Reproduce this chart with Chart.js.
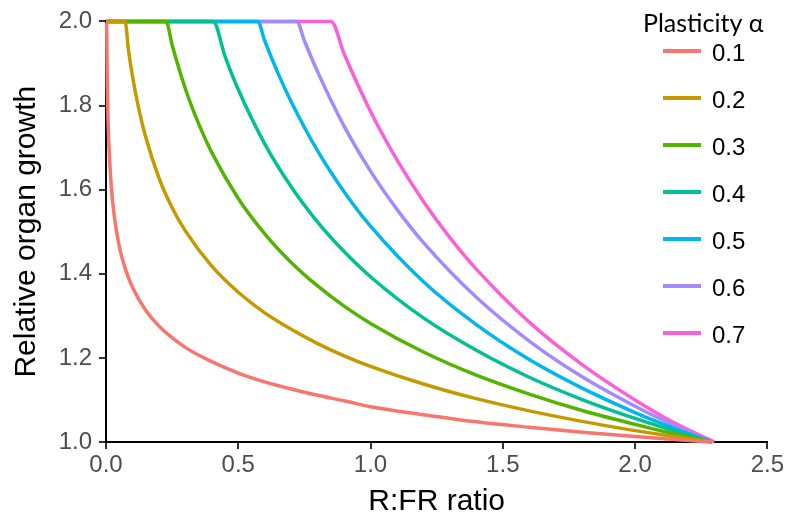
<!DOCTYPE html>
<html>
<head>
<meta charset="utf-8">
<title>Relative organ growth vs R:FR ratio</title>
<script src="https://cdn.jsdelivr.net/npm/chart.js@4.4.1/dist/chart.umd.min.js"></script>
<style>
  html, body { margin: 0; padding: 0; background: #fff; }
  #chart { display: block; }
</style>
</head>
<body>
<canvas id="chart" width="786" height="516"></canvas>
<script>
// ---------------- DATA ----------------
const legendTitle = "Plasticity \u03b1";
const alphaLabels = ["0.1", "0.2", "0.3", "0.4", "0.5", "0.6", "0.7"];
const lineColors = ["#F8766D", "#C49A00", "#53B400", "#00C094", "#00B6EB", "#A58AFF", "#FB61D7"];

const xTicks = [0, 0.5, 1.0, 1.5, 2.0, 2.5];
const yTicks = [1.0, 1.2, 1.4, 1.6, 1.8, 2.0];

// alpha = 0.1
const ratio01 = [0, 0.002, 0.005, 0.01, 0.02, 0.03, 0.05, 0.075, 0.1, 0.15, 0.2, 0.3, 0.4, 0.5, 0.6, 0.7, 0.8, 0.9, 1.0, 1.2, 1.4, 1.6, 1.8, 2.0, 2.15, 2.29];
const growth01 = [2.0, 2.0, 1.845, 1.722, 1.607, 1.543, 1.466, 1.408, 1.368, 1.313, 1.276, 1.225, 1.191, 1.164, 1.143, 1.126, 1.111, 1.098, 1.084, 1.065, 1.048, 1.035, 1.023, 1.013, 1.006, 1.0];
// alpha = 0.2
const ratio02 = [0, 0.072, 0.085, 0.1, 0.125, 0.15, 0.2, 0.25, 0.3, 0.4, 0.5, 0.6, 0.7, 0.8, 0.9, 1.0, 1.2, 1.4, 1.6, 1.8, 2.0, 2.15, 2.29];
const growth02 = [2.0, 2.0, 1.932, 1.870, 1.789, 1.725, 1.628, 1.557, 1.502, 1.418, 1.356, 1.307, 1.268, 1.234, 1.205, 1.180, 1.138, 1.103, 1.074, 1.049, 1.027, 1.013, 1.0];
// alpha = 0.3
const ratio03 = [0, 0.227, 0.25, 0.3, 0.35, 0.4, 0.5, 0.6, 0.7, 0.8, 0.9, 1.0, 1.2, 1.4, 1.6, 1.8, 2.0, 2.15, 2.29];
const growth03 = [2.0, 2.0, 1.944, 1.840, 1.757, 1.688, 1.579, 1.495, 1.427, 1.371, 1.323, 1.282, 1.214, 1.159, 1.114, 1.075, 1.042, 1.019, 1.0];
// alpha = 0.4
const ratio04 = [0, 0.405, 0.45, 0.5, 0.6, 0.7, 0.8, 0.9, 1.0, 1.2, 1.4, 1.6, 1.8, 2.0, 2.15, 2.29];
const growth04 = [2.0, 2.0, 1.917, 1.838, 1.709, 1.607, 1.523, 1.453, 1.393, 1.295, 1.218, 1.154, 1.101, 1.056, 1.026, 1.0];
// alpha = 0.5
const ratio05 = [0, 0.573, 0.6, 0.65, 0.7, 0.8, 0.9, 1.0, 1.2, 1.4, 1.6, 1.8, 2.0, 2.15, 2.29];
const growth05 = [2.0, 2.0, 1.954, 1.877, 1.809, 1.692, 1.595, 1.513, 1.381, 1.279, 1.196, 1.128, 1.070, 1.032, 1.0];
// alpha = 0.6
const ratio06 = [0, 0.721, 0.75, 0.8, 0.9, 1.0, 1.1, 1.2, 1.4, 1.6, 1.8, 2.0, 2.15, 2.29];
const growth06 = [2.0, 2.0, 1.954, 1.880, 1.751, 1.644, 1.553, 1.474, 1.344, 1.240, 1.155, 1.085, 1.039, 1.0];
// alpha = 0.7
const ratio07 = [0, 0.851, 0.9, 1.0, 1.1, 1.2, 1.3, 1.4, 1.6, 1.8, 2.0, 2.15, 2.30];
const growth07 = [2.0, 2.0, 1.923, 1.786, 1.671, 1.572, 1.486, 1.411, 1.285, 1.184, 1.100, 1.045, 1.0];

const ratios = [ratio01, ratio02, ratio03, ratio04, ratio05, ratio06, ratio07];
const growths = [growth01, growth02, growth03, growth04, growth05, growth06, growth07];

// ---------------- BUILD DATASETS ----------------
const datasets = alphaLabels.map((label, i) => ({
  label: label,
  data: ratios[i].map((x, j) => ({ x: x, y: growths[i][j] })),
  borderColor: lineColors[i],
  backgroundColor: lineColors[i],
  borderWidth: 3.5,
  pointRadius: 0,
  cubicInterpolationMode: "monotone",
  clip: false,
  fill: false
}));

// legend drawn at the top right, ggplot style
const sideLegend = {
  id: "sideLegend",
  afterDatasetsDraw(chart) {
    const ctx = chart.ctx;
    ctx.save();
    ctx.fillStyle = "#000";
    ctx.textBaseline = "middle";
    ctx.textAlign = "left";
    ctx.font = "25px Lato";
    ctx.fillText(legendTitle, 643, 24);

    ctx.font = "24px 'Liberation Sans'";
    chart.data.datasets.forEach((ds, i) => {
      const y = 51 + i * 47;
      ctx.strokeStyle = ds.borderColor;
      ctx.lineWidth = 4;
      ctx.beginPath();
      ctx.moveTo(663, y);
      ctx.lineTo(701, y);
      ctx.stroke();
      ctx.fillStyle = "#000";
      ctx.fillText(ds.label, 712, y + 3);
    });
    ctx.restore();
  }
};

const tickFont = { family: "'Liberation Sans', Arial, sans-serif", size: 24 };
const titleFont = { family: "'Liberation Sans', Arial, sans-serif", size: 30 };

new Chart(document.getElementById("chart").getContext("2d"), {
  type: "line",
  data: { datasets: datasets },
  options: {
    responsive: false,
    animation: false,
    layout: { padding: { left: 0, right: 18, top: 18, bottom: 0 } },
    plugins: {
      legend: { display: false },
      tooltip: { enabled: false }
    },
    scales: {
      x: {
        type: "linear",
        min: 0,
        max: 2.5,
        afterBuildTicks: (axis) => { axis.ticks = xTicks.map(v => ({ value: v })); },
        afterFit: (axis) => { axis.height = 74; },
        border: { color: "#000", width: 2 },
        grid: { drawOnChartArea: false, tickLength: 7, color: "#333", lineWidth: 2 },
        ticks: {
          color: "#4D4D4D",
          font: tickFont,
          padding: 2,
          maxRotation: 0,
          callback: (v) => Number(v).toFixed(1)
        },
        title: { display: true, text: "R:FR ratio", color: "#000", font: titleFont, padding: { top: 0, bottom: -4 } }
      },
      y: {
        type: "linear",
        min: 1.0,
        max: 2.0,
        afterBuildTicks: (axis) => { axis.ticks = yTicks.map(v => ({ value: v })); },
        afterFit: (axis) => { axis.width = 106; },
        border: { color: "#000", width: 2 },
        grid: { drawOnChartArea: false, tickLength: 7, color: "#333", lineWidth: 2 },
        ticks: {
          color: "#4D4D4D",
          font: tickFont,
          padding: 7,
          callback: (v) => Number(v).toFixed(1)
        },
        title: { display: true, text: "Relative organ growth", color: "#000", font: titleFont, padding: { top: 9, bottom: 0 } }
      }
    }
  },
  plugins: [sideLegend]
});
</script>
</body>
</html>
